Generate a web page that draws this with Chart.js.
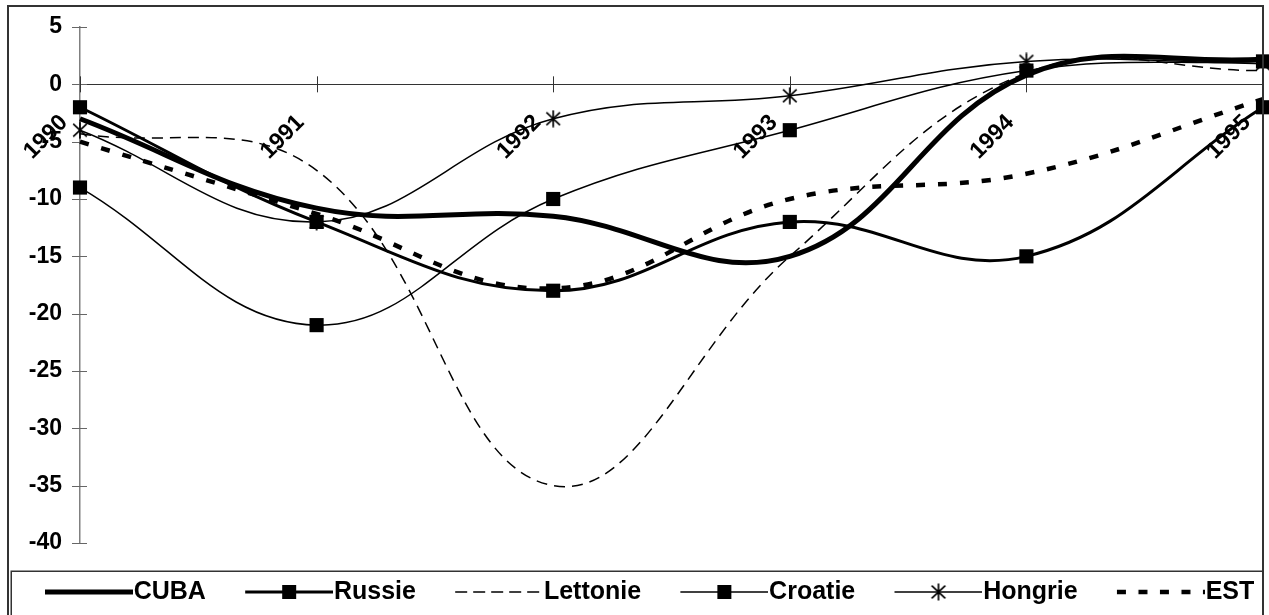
<!DOCTYPE html>
<html>
<head>
<meta charset="utf-8">
<script src="https://cdn.jsdelivr.net/npm/chart.js@4.4.0/dist/chart.umd.min.js"></script>
<style>
  html, body { margin: 0; padding: 0; background: #fff; }
  canvas { display: block; }
</style>
</head>
<body>
<canvas id="graphe" width="1269" height="615"></canvas>
<script>
// années (axe x)
const annees = ['1990', '1991', '1992', '1993', '1994', '1995'];

// valeurs
const cuba     = [-3, -10.8, -11.5, -15, 0.8, 2.2];
const russie   = [-2, -12, -18, -12, -15, -2];
const lettonie = [-4.3, -7.5, -35, -15, 1, 1.2];
const croatie  = [-9, -21, -10, -4, 1.2, 2];
const hongrie  = [-4, -12, -3, -1, 2, 1.8];
const est      = [-5, -11.3, -17.8, -10, -7.8, -1.3];

// axe y
const yMin = -40;
const yMax = 5;
const yPas = 5;

const police = '"Liberation Sans", Arial, Helvetica, sans-serif';
Chart.defaults.font.family = police;
Chart.defaults.color = '#000';

// légende : largeur réservée à chaque échantillon, taille du texte
const boite = 112.5;
const taillePolice = 25;
const largeurImg = 136;

/**
 * dessine l'astérisque de Hongrie sur un petit canvas
 */
function asterisque(taille) {
    const c = document.createElement('canvas');
    c.width = taille;
    c.height = taille;
    const g = c.getContext('2d');
    const m = taille / 2;
    const r = taille / 2 - 0.5;
    g.strokeStyle = '#000';
    g.lineWidth = 1.7;
    g.beginPath();
    g.moveTo(m, m - r); g.lineTo(m, m + r);
    g.moveTo(m - r * 0.8, m - r * 0.75); g.lineTo(m + r * 0.8, m + r * 0.75);
    g.moveTo(m + r * 0.8, m - r * 0.75); g.lineTo(m - r * 0.8, m + r * 0.75);
    g.stroke();
    return c;
}

const etoile = asterisque(18);

/**
 * échantillon de légende : trait (+ marqueur) dans la partie droite du canvas
 */
function echantillon(largeurTrait, tirets, marqueur) {
    const c = document.createElement('canvas');
    c.width = largeurImg;
    c.height = 24;
    const g = c.getContext('2d');
    const debut = largeurImg - 88;
    g.strokeStyle = '#000';
    g.lineWidth = largeurTrait;
    g.setLineDash(tirets);
    g.beginPath();
    g.moveTo(debut, 12);
    g.lineTo(largeurImg, 12);
    g.stroke();
    g.setLineDash([]);
    const cx = debut + 44;
    if (marqueur === 'carre') {
        g.fillStyle = '#000';
        g.fillRect(cx - 7, 12 - 7, 14, 14);
    } else if (marqueur === 'etoile') {
        g.drawImage(etoile, cx - 9, 12 - 9);
    }
    return c;
}

const echantillons = [
    echantillon(5, [], null),
    echantillon(3, [], 'carre'),
    echantillon(1.5, [12, 6], null),
    echantillon(1.5, [], 'carre'),
    echantillon(1.5, [], 'etoile'),
    echantillon(4.5, [9, 12.5], null)
];

// graduations qui traversent les axes
const graduations = {
    id: 'graduations',
    beforeDatasetsDraw(chart) {
        const {ctx, scales: {x, y}} = chart;
        const y0 = y.getPixelForValue(0);
        ctx.save();
        ctx.lineWidth = 1;
        ctx.strokeStyle = '#666';
        ctx.beginPath();
        y.ticks.forEach(t => {
            const py = Math.round(y.getPixelForValue(t.value)) + 0.5;
            ctx.moveTo(x.left - 8, py);
            ctx.lineTo(x.left + 7, py);
        });
        ctx.stroke();
        ctx.strokeStyle = '#333';
        ctx.beginPath();
        x.ticks.forEach((t, i) => {
            const px = Math.round(x.getPixelForTick(i)) + 0.5;
            ctx.moveTo(px, y0 - 8);
            ctx.lineTo(px, y0 + 8);
        });
        ctx.stroke();
        ctx.restore();
    }
};

// cadre extérieur et cadre de la légende
const cadre = {
    id: 'cadre',
    afterDraw(chart) {
        const ctx = chart.ctx;
        const haut = chart.legend.top + 28;
        ctx.save();
        ctx.strokeStyle = '#333';
        ctx.lineWidth = 2;
        ctx.strokeRect(8, 6, 1255, 640);
        ctx.lineWidth = 1.5;
        ctx.strokeRect(11.25, haut + 0.25, 1252, 100);
        ctx.restore();
    }
};

function serie(label, data, style) {
    return Object.assign({
        label: label,
        data: data,
        borderColor: '#000',
        backgroundColor: '#000',
        pointRadius: 0,
        pointHoverRadius: 0,
        pointBorderWidth: 0,
        tension: 0.4,
        fill: false,
        clip: false
    }, style);
}

const datasets = [
    serie('CUBA', cuba, {borderWidth: 5}),
    serie('Russie', russie, {borderWidth: 3, pointStyle: 'rect', pointRadius: 10}),
    serie('Lettonie', lettonie, {borderWidth: 1.5, borderDash: [11, 7]}),
    serie('Croatie', croatie, {borderWidth: 1.5, pointStyle: 'rect', pointRadius: 10}),
    serie('Hongrie', hongrie, {borderWidth: 1.5, pointStyle: etoile, pointRadius: 9}),
    serie('EST', est, {borderWidth: 4.5, borderDash: [9, 13]})
];

const ctx = document.getElementById('graphe').getContext('2d');

new Chart(ctx, {
    type: 'line',
    data: {
        labels: annees,
        datasets: datasets
    },
    options: {
        responsive: false,
        animation: false,
        events: [],
        layout: {
            autoPadding: false,
            padding: {left: 0, right: 6, top: 27, bottom: 0.5}
        },
        plugins: {
            tooltip: {enabled: false},
            title: {display: false},
            legend: {
                display: true,
                position: 'bottom',
                title: {
                    display: true,
                    text: '',
                    padding: 0,
                    font: {size: 33.5, lineHeight: 1}
                },
                labels: {
                    usePointStyle: true,
                    pointStyleWidth: boite,
                    boxHeight: taillePolice,
                    padding: 3,
                    color: '#000',
                    font: {size: taillePolice, weight: 'bold', family: police},
                    generateLabels: chart => chart.data.datasets.map((ds, i) => ({
                        text: ds.label,
                        pointStyle: echantillons[i],
                        fillStyle: '#000',
                        strokeStyle: '#000',
                        lineWidth: 0,
                        hidden: false,
                        datasetIndex: i
                    }))
                }
            }
        },
        scales: {
            x: {
                type: 'category',
                position: {y: 0},
                offset: false,
                afterFit: s => { s.paddingLeft = 0; s.paddingRight = 0; },
                grid: {drawOnChartArea: false, drawTicks: false},
                border: {display: true, color: '#333', width: 1},
                ticks: {
                    autoSkip: false,
                    minRotation: 45,
                    maxRotation: 45,
                    padding: 25,
                    labelOffset: -16,
                    color: '#000',
                    font: {size: 23, weight: 'bold'}
                }
            },
            y: {
                position: 'left',
                min: yMin,
                max: yMax,
                afterFit: s => { s.width = 80; s.paddingTop = 0; s.paddingBottom = 0; },
                grid: {drawOnChartArea: false, drawTicks: false},
                border: {display: true, color: '#808080', width: 1.5},
                ticks: {
                    stepSize: yPas,
                    padding: 18,
                    color: '#000',
                    font: {size: 23, weight: 'bold'}
                }
            }
        }
    },
    plugins: [graduations, cadre]
});
</script>
</body>
</html>
